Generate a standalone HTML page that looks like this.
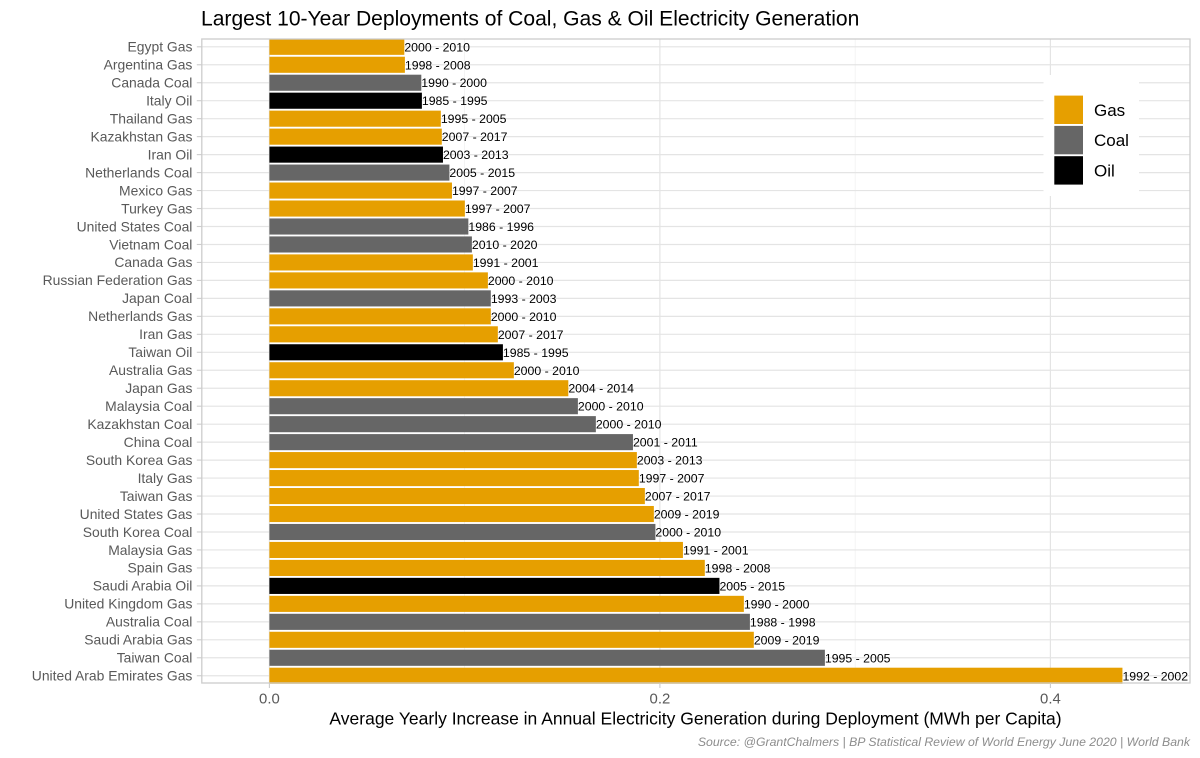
<!DOCTYPE html>
<html lang="en">
<head>
<meta charset="utf-8">
<title>Largest 10-Year Deployments of Coal, Gas &amp; Oil Electricity Generation</title>
<style>
html,body{margin:0;padding:0;background:#fff;}
svg{display:block;font-family:"Liberation Sans",Arial,sans-serif;}
</style>
</head>
<body>
<svg id="chart" width="1200" height="758" viewBox="0 0 1200 758" xmlns="http://www.w3.org/2000/svg">
<rect x="0" y="0" width="1200" height="758" fill="#fff"/>
<text x="201" y="25.5" font-size="21.07" fill="#000">Largest 10-Year Deployments of Coal, Gas &amp; Oil Electricity Generation</text>
<g id="grid"></g>
<g id="bars"></g>
<g id="labels"></g>
<g id="legend"></g>
<rect x="201.8" y="39" width="988.2" height="644" fill="none" stroke="#cccccc" stroke-width="1.3"/>
<g id="yaxis"></g>
<g id="xaxis"></g>
<text x="695.5" y="724.5" font-size="17.5" text-anchor="middle" fill="#000">Average Yearly Increase in Annual Electricity Generation during Deployment (MWh per Capita)</text>
<text x="1190" y="746" font-size="12.27" font-style="italic" text-anchor="end" fill="#8c8c8c">Source: @GrantChalmers | BP Statistical Review of World Energy June 2020 | World Bank</text>
</svg>
<script>
const categories = ["Egypt Gas","Argentina Gas","Canada Coal","Italy Oil","Thailand Gas","Kazakhstan Gas","Iran Oil","Netherlands Coal","Mexico Gas","Turkey Gas","United States Coal","Vietnam Coal","Canada Gas","Russian Federation Gas","Japan Coal","Netherlands Gas","Iran Gas","Taiwan Oil","Australia Gas","Japan Gas","Malaysia Coal","Kazakhstan Coal","China Coal","South Korea Gas","Italy Gas","Taiwan Gas","United States Gas","South Korea Coal","Malaysia Gas","Spain Gas","Saudi Arabia Oil","United Kingdom Gas","Australia Coal","Saudi Arabia Gas","Taiwan Coal","United Arab Emirates Gas"];
const values = [0.0691,0.0694,0.0778,0.0781,0.0878,0.0883,0.0889,0.0922,0.0935,0.1001,0.1019,0.1037,0.1042,0.1119,0.1134,0.1134,0.1170,0.1196,0.1252,0.1531,0.1580,0.1672,0.1862,0.1882,0.1892,0.1923,0.1969,0.1977,0.2118,0.2230,0.2305,0.2430,0.2461,0.2481,0.2845,0.4369];
const periods = ["2000 - 2010","1998 - 2008","1990 - 2000","1985 - 1995","1995 - 2005","2007 - 2017","2003 - 2013","2005 - 2015","1997 - 2007","1997 - 2007","1986 - 1996","2010 - 2020","1991 - 2001","2000 - 2010","1993 - 2003","2000 - 2010","2007 - 2017","1985 - 1995","2000 - 2010","2004 - 2014","2000 - 2010","2000 - 2010","2001 - 2011","2003 - 2013","1997 - 2007","2007 - 2017","2009 - 2019","2000 - 2010","1991 - 2001","1998 - 2008","2005 - 2015","1990 - 2000","1988 - 1998","2009 - 2019","1995 - 2005","1992 - 2002"];
const fuels = ["Gas","Gas","Coal","Oil","Gas","Gas","Oil","Coal","Gas","Gas","Coal","Coal","Gas","Gas","Coal","Gas","Gas","Oil","Gas","Gas","Coal","Coal","Coal","Gas","Gas","Gas","Gas","Coal","Gas","Gas","Oil","Gas","Coal","Gas","Coal","Gas"];
const xMajorTicks = [0, 0.2, 0.4];
const xMinorTicks = [0.1, 0.3];
const xTickLabels = ["0.0", "0.2", "0.4"];
const legendFuels = ["Gas", "Coal", "Oil"];
const fuelColors = {Gas: "#E69F00", Coal: "#666666", Oil: "#000000"};

const NS = "http://www.w3.org/2000/svg";
const panel = {left: 201.8, right: 1190, top: 39, bottom: 683};
const rowStep = 17.97;
const firstRowY = 46.8;
const barHeight = 16.1;

function xScale(v) { return 269.4 + v * 1952.5; }
function yScale(i) { return firstRowY + i * rowStep; }
function slug(s) { return s.toLowerCase().replace(/[^a-z0-9]+/g, "-"); }
function make(parentId, tag, attrs, text) {
  const el = document.createElementNS(NS, tag);
  for (const k in attrs) el.setAttribute(k, attrs[k]);
  if (text !== undefined) el.textContent = text;
  document.getElementById(parentId).appendChild(el);
  return el;
}

// vertical grid
xMinorTicks.forEach(function (t) {
  const el = make("grid", "line", {x1: xScale(t), x2: xScale(t), y1: panel.top, y2: panel.bottom, stroke: "#efefef", "stroke-width": 0.7});
  
  
});
xMajorTicks.forEach(function (t) {
  const el = make("grid", "line", {x1: xScale(t), x2: xScale(t), y1: panel.top, y2: panel.bottom, stroke: "#e4e4e4", "stroke-width": 1.2});
  
  
});

categories.forEach(function (name, i) {
  const y = yScale(i);
  const s = slug(name);

  const grid = make("grid", "line", {x1: panel.left, x2: panel.right, y1: y, y2: y, stroke: "#e4e4e4", "stroke-width": 1.2});
  
  

  const bar = make("bars", "rect", {x: xScale(0), y: y - barHeight / 2, width: xScale(values[i]) - xScale(0), height: barHeight, fill: fuelColors[fuels[i]]});
  
  

  const label = make("labels", "text", {x: xScale(values[i]), y: y + 4.5, "font-size": 12.3, fill: "#000"}, periods[i]);
  
  

  const tick = make("yaxis", "line", {x1: panel.left - 5, x2: panel.left, y1: y, y2: y, stroke: "#cccccc", "stroke-width": 1.1});
  
  

  const catLabel = make("yaxis", "text", {x: 192.4, y: y + 4.8, "font-size": 13.9, "text-anchor": "end", fill: "#595959"}, name);
  
  
});

xMajorTicks.forEach(function (t, i) {
  const tick = make("xaxis", "line", {x1: xScale(t), x2: xScale(t), y1: panel.bottom, y2: panel.bottom + 5, stroke: "#cccccc", "stroke-width": 1.1});
  
  

  const lab = make("xaxis", "text", {x: xScale(t), y: 703.5, "font-size": 14.9, "text-anchor": "middle", fill: "#595959"}, xTickLabels[i]);
  
  
});

// legend
const legendBg = make("legend", "rect", {x: 1043.5, y: 75, width: 95.5, height: 121, fill: "#ffffff"});


legendFuels.forEach(function (f, i) {
  const cy = 109.8 + i * 30.3;
  const key = make("legend", "rect", {x: 1054.3, y: cy - 14.2, width: 28.7, height: 28.4, fill: fuelColors[f]});
  
  

  const txt = make("legend", "text", {x: 1094, y: cy + 6, "font-size": 17, fill: "#000"}, f);
  
  
});
</script>
</body>
</html>
